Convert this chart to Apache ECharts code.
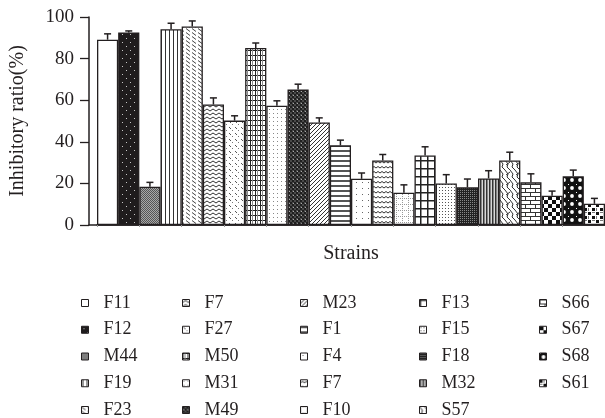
<!DOCTYPE html>
<html>
<head>
<meta charset="utf-8">
<script src="https://cdn.jsdelivr.net/npm/echarts@6/dist/echarts.min.js"></script>
<style>html,body{margin:0;padding:0;background:#fff;}#c{width:605px;height:418px;}</style>
</head>
<body>
<div id="c"></div>
<script>
// ---- data ----
const strains = ['F11','F12','M44','F19','F23','F7','F27','M50','M31','M49','M23','F1','F4','F7 ','F10','F13','F15','F18','M32','S57','S66','S67','S68','S61'];
const ratios  = [89.1, 92.5, 18.4, 94.1, 95.4, 57.9, 50.2, 85.1, 57.3, 65.1, 49.3, 38.3, 22.2, 31.0, 15.5, 33.4, 20.0, 18.1, 22.4, 31.0, 20.5, 14.1, 23.4, 10.2];
const errors  = [2.8, 0.8, 2.1, 2.9, 2.7, 3.2, 2.3, 2.4, 2.4, 2.6, 2.2, 2.5, 2.8, 2.9, 3.8, 4.2, 4.2, 4.0, 3.7, 4.0, 4.1, 2.2, 3.0, 2.6];
const yTicks  = [0, 20, 40, 60, 80, 100];
const legendCols = [
  ['F11','F12','M44','F19','F23'],
  ['F7','F27','M50','M31','M49'],
  ['M23','F1','F4','F7 ','F10'],
  ['F13','F15','F18','M32','S57'],
  ['S66','S67','S68','S61']
];

// ---- patterns ----
function pat(w, h, bg, draw) {
  const c = document.createElement('canvas');
  c.width = w; c.height = h;
  const g = c.getContext('2d');
  g.fillStyle = bg; g.fillRect(0, 0, w, h);
  if (draw) draw(g, w, h);
  return { image: c, repeat: 'repeat' };
}
function line(g, pts, col, lw) {
  g.strokeStyle = col; g.lineWidth = lw || 1; g.beginPath();
  g.moveTo(pts[0][0], pts[0][1]);
  for (let i = 1; i < pts.length; i++) g.lineTo(pts[i][0], pts[i][1]);
  g.stroke();
}
function px(g, x, y, col, w, h) { g.fillStyle = col; g.fillRect(x, y, w || 1, h || 1); }

const patterns = [
  pat(4,4,'#ffffff'),
  pat(8,8,'#1f1c1d',g=>{px(g,2,2,'#c8c8c8');px(g,6,6,'#c8c8c8');}),
  pat(2,2,'#a8a8a8',g=>{px(g,0,0,'#555');px(g,1,1,'#555');}),
  pat(4,4,'#ffffff',g=>{px(g,1,0,'#333',1,4);}),
  pat(6,4,'#ffffff',g=>{line(g,[[0,0.5],[4,3.5]],'#444',1);}),
  pat(6,4,'#ffffff',g=>{line(g,[[0,3],[3,1],[6,3]],'#333',1);}),
  pat(6,6,'#ffffff',g=>{px(g,1,1,'#555');px(g,2,2,'#555');px(g,4,4,'#777');}),
  pat(5,5,'#ffffff',g=>{px(g,0,0,'#222',5,1);px(g,0,0,'#222',1,5);px(g,2,0,'#888',1,5);}),
  pat(4,4,'#ffffff',g=>{px(g,1,1,'#888');}),
  pat(4,4,'#4a4a4a',g=>{px(g,0,0,'#1f1f1f',2,2);px(g,2,2,'#1f1f1f',2,2);px(g,1,3,'#aaa');}),
  pat(4,4,'#ffffff',g=>{line(g,[[-1,5],[5,-1]],'#333',1);line(g,[[3,5],[5,3]],'#333',1);line(g,[[-1,1],[1,-1]],'#333',1);}),
  pat(1,5,'#ffffff',g=>{px(g,0,0,'#555',1,2);}),
  pat(6,6,'#ffffff',g=>{px(g,2,2,'#666');}),
  pat(8,5,'#ffffff',g=>{line(g,[[0,3],[2,1.5],[4,3],[6,1.5],[8,3]],'#333',1);}),
  pat(6,6,'#ffffff',g=>{px(g,0,0,'#999');px(g,0,2,'#999');px(g,0,4,'#999');px(g,2,0,'#999');px(g,4,0,'#999');}),
  pat(7,8,'#ffffff',g=>{px(g,0,0,'#222',7,1.5);px(g,0,0,'#222',1.5,8);}),
  pat(3,3,'#ffffff',g=>{px(g,1,1,'#555');}),
  pat(2,2,'#222',g=>{px(g,0,0,'#888');}),
  pat(3,3,'#d8d8d8',g=>{px(g,0,0,'#333',1.5,3);}),
  pat(10,10,'#ffffff',g=>{line(g,[[0,0],[3,4],[2,7],[5,10]],'#333',1);line(g,[[5,0],[8,4],[7,7],[10,10]],'#333',1);line(g,[[10,2],[6,5]],'#333',1);}),
  pat(10,8,'#ffffff',g=>{px(g,0,0,'#333',10,1);px(g,0,4,'#333',10,1);px(g,0,0,'#333',1,4);px(g,5,4,'#333',1,4);}),
  pat(8,8,'#ffffff',g=>{px(g,0,0,'#111',4,4);px(g,4,4,'#111',4,4);}),
  pat(8,8,'#111111',g=>{g.fillStyle='#fff';g.beginPath();g.arc(4,4,1.9,0,Math.PI*2);g.fill();px(g,0,0,'#fff',1,1);}),
  pat(8,8,'#ffffff',g=>{px(g,0,0,'#111',3,3);px(g,4,4,'#111',3,3);px(g,0,4,'#777',3,1);px(g,4,0,'#777',1,3);})
];

const FONT = 'Liberation Serif';
const INK = '#231f20';

const barSeries = strains.map((name, i) => ({
  name: name,
  type: 'bar',
  xAxisIndex: 0,
  yAxisIndex: 1,
  stack: 'all',
  barCategoryGap: '0%',
  barWidth: '100%',
  data: ratios.map((v, j) => (j === i ? v : '-')),
  itemStyle: { color: patterns[i], borderColor: INK, borderWidth: 1.3 },
  emphasis: { disabled: true },
  silent: true,
  z: 2
}));

const errSeries = {
  type: 'custom',
  xAxisIndex: 0,
  yAxisIndex: 1,
  silent: true,
  z: 5,
  data: ratios.map((v, i) => [i, v, v + errors[i]]),
  renderItem: function (params, api) {
    const x = api.value(0);
    const lo = api.coord([x, api.value(1)]);
    const hi = api.coord([x, api.value(2)]);
    const hw = 3.5;
    return {
      type: 'group',
      children: [
        { type: 'line', shape: { x1: lo[0], y1: lo[1], x2: hi[0], y2: hi[1] }, style: { stroke: INK, lineWidth: 1.5 } },
        { type: 'line', shape: { x1: hi[0] - hw, y1: hi[1], x2: hi[0] + hw, y2: hi[1] }, style: { stroke: INK, lineWidth: 1.5 } }
      ]
    };
  }
};

const colLefts = [76, 177, 295, 414, 534];
const legends = legendCols.map((col, k) => ({
  orient: 'vertical',
  left: colLefts[k],
  top: 289,
  height: 160,
  data: col,
  itemWidth: 7,
  itemHeight: 7,
  itemGap: 8.75,
  icon: 'rect',
  selectedMode: false,
  itemStyle: { borderColor: INK, borderWidth: 1 },
  textStyle: { fontFamily: FONT, fontSize: 18, color: INK, lineHeight: 18, padding: [0, 0, 0, 10] }
}));

const option = {
  animation: false,
  backgroundColor: '#ffffff',
  grid: [
    { left: 97, right: 0, top: 17, bottom: 193 },
    { left: 80, right: 0, top: 17, bottom: 193 }
  ],
  legend: legends,
  xAxis: [
    {
      type: 'category', gridIndex: 0, data: strains,
      name: 'Strains', nameLocation: 'middle', nameGap: 19,
      nameTextStyle: { fontFamily: FONT, fontSize: 20, color: INK },
      axisLine: { show: true, lineStyle: { color: INK, width: 1.5 } },
      axisTick: { show: true, length: 2, lineStyle: { color: '#999' } },
      axisLabel: { show: false }
    },
    {
      type: 'value', gridIndex: 1, min: 0, max: 1,
      axisLine: { show: true, onZero: false, lineStyle: { color: INK, width: 1.5 } },
      axisTick: { show: false }, axisLabel: { show: false }, splitLine: { show: false }
    }
  ],
  yAxis: [
    {
      type: 'value', gridIndex: 1, min: 0, max: 100, interval: 20,
      name: 'Inhibitory ratio(%)', nameLocation: 'middle', nameGap: 61,
      nameTextStyle: { fontFamily: FONT, fontSize: 20, color: INK },
      axisLine: { show: true, lineStyle: { color: INK, width: 1.5 } },
      axisTick: { show: true, length: 4, lineStyle: { color: INK, width: 1.3 } },
      axisLabel: { fontFamily: FONT, fontSize: 19, color: INK, margin: 15,
        formatter: v => (yTicks.indexOf(v) >= 0 ? String(v) : '') },
      splitLine: { show: false }
    },
    {
      type: 'value', gridIndex: 0, min: 0, max: 100, interval: 20, offset: 17,
      axisLine: { show: false },
      axisTick: { show: true, inside: true, length: 5, lineStyle: { color: INK, width: 1.3 } },
      axisLabel: { show: false },
      splitLine: { show: false }
    }
  ],
  series: barSeries.concat([errSeries])
};

const chart = echarts.init(document.getElementById('c'), null, { renderer: 'canvas' });
chart.setOption(option);
</script>
</body>
</html>
